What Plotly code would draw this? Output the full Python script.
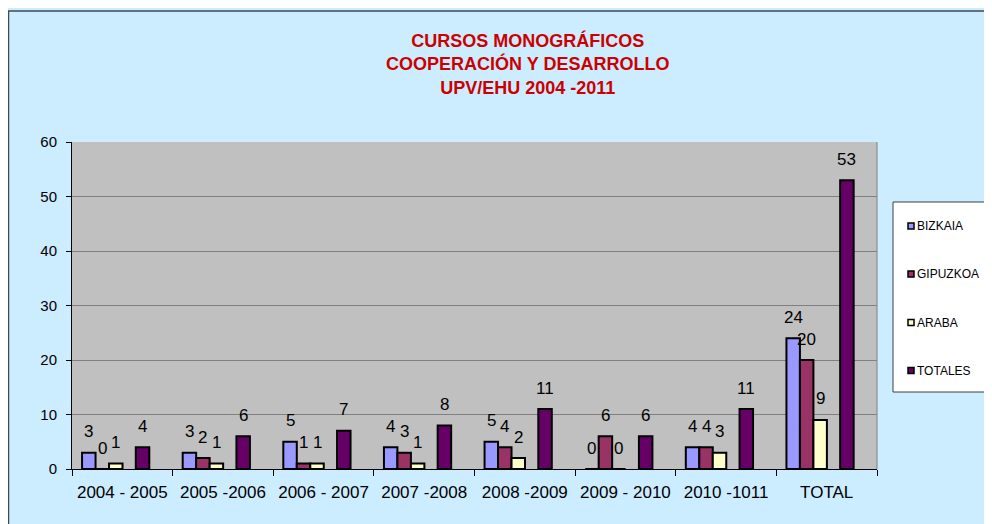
import plotly.graph_objects as go

# data
categories = ["2004 - 2005", "2005 -2006", "2006 - 2007", "2007 -2008",
              "2008 -2009", "2009 - 2010", "2010 -1011", "TOTAL"]
bizkaia = [3, 3, 5, 4, 5, 0, 4, 24]
gipuzkoa = [0, 2, 1, 3, 4, 6, 4, 20]
araba = [1, 1, 1, 1, 2, 0, 3, 9]
totales = [4, 6, 7, 8, 11, 6, 11, 53]

series = [
    ("BIZKAIA", bizkaia, "#9999FF", -0.40),
    ("GIPUZKOA", gipuzkoa, "#993366", -0.266),
    ("ARABA", araba, "#FFFFCC", -0.132),
    ("TOTALES", totales, "#660066", 0.134),
]
bar_w = 0.134
font = "Liberation Sans, Arial, sans-serif"

# plot area in page pixels (page body adds an 8px offset)
PL, PR, PT, PB = 72, 877, 142, 469


def px(x):
    return (x - PL) / (PR - PL)


def py(y):
    return (PB - y) / (PB - PT)


fig = go.Figure()
annotations = []
shapes = [
    # dark border of the chart area
    dict(type="line", xref="paper", yref="paper",
         x0=px(8), x1=px(1100), y0=py(11), y1=py(11),
         line=dict(color="#3F4A55", width=1.5)),
    dict(type="line", xref="paper", yref="paper",
         x0=px(8.5), x1=px(8.5), y0=py(600), y1=py(11),
         line=dict(color="#3F4A55", width=1.5)),
    # grey right edge of the plot area
    dict(type="line", xref="paper", yref="paper",
         x0=1, x1=1, y0=0, y1=1, line=dict(color="#808080", width=1)),
    # legend box
    dict(type="rect", xref="paper", yref="paper",
         x0=px(893), x1=px(987), y0=py(392), y1=py(202),
         fillcolor="white", line=dict(color="#404040", width=1)),
]
legend_y = [226, 274, 322.5, 370.5]

for k, (name, vals, color, off) in enumerate(series):
    fig.add_trace(go.Bar(
        x=categories, y=vals, name=name,
        offset=off, width=bar_w,
        marker=dict(color=color, line=dict(color="black", width=2)),
        showlegend=False,
    ))
    # data labels sit a bit above each bar, like the Excel original
    for i, v in enumerate(vals):
        annotations.append(dict(
            x=i + off + bar_w / 2, y=v, xref="x", yref="y",
            text=str(v), showarrow=False, yshift=21,
            font=dict(family=font, size=17, color="black"),
        ))
    # legend entry
    ly = legend_y[k]
    shapes.append(dict(
        type="rect", xref="paper", yref="paper",
        x0=px(908), x1=px(914), y0=py(ly + 3), y1=py(ly - 3),
        fillcolor=color, line=dict(color="black", width=1.5),
    ))
    annotations.append(dict(
        x=px(915), y=py(ly), xref="paper", yref="paper",
        xanchor="left", yanchor="middle", showarrow=False,
        text=name, font=dict(family=font, size=12, color="black"),
    ))

fig.update_layout(
    width=992, height=524,
    barmode="overlay",
    showlegend=False,
    paper_bgcolor="#CCECFF",
    plot_bgcolor="#C0C0C0",
    margin=dict(l=PL - 8, r=992 - (PR - 8), t=PT - 8, b=524 - (PB - 8),
                autoexpand=False),
    font=dict(family=font, color="black"),
    title=dict(
        text="CURSOS MONOGRÁFICOS<br>COOPERACIÓN Y DESARROLLO<br>UPV/EHU 2004 -2011",
        font=dict(family=font, size=18, color="#CC0000", weight="bold"),
        xref="container", x=0.524, xanchor="center",
        yref="container", y=1 - 39 / 524, yanchor="top",
    ),
    annotations=annotations,
    shapes=shapes,
)

fig.update_xaxes(
    type="category", automargin=False, tickangle=0,
    showline=True, linecolor="black", linewidth=1,
    ticks="outside", tickson="boundaries", ticklen=6, tickcolor="black",
    ticklabelstandoff=8,
    tickfont=dict(family=font, size=17, color="black"),
    showgrid=False,
)
fig.update_yaxes(
    range=[0, 60], dtick=10, automargin=False,
    showline=True, linecolor="black", linewidth=1,
    ticks="outside", ticklen=5, tickcolor="black",
    ticklabelstandoff=6,
    tickfont=dict(family=font, size=15, color="black"),
    gridcolor="#808080", gridwidth=1,
    zeroline=False,
)

fig.write_html("out.html")
